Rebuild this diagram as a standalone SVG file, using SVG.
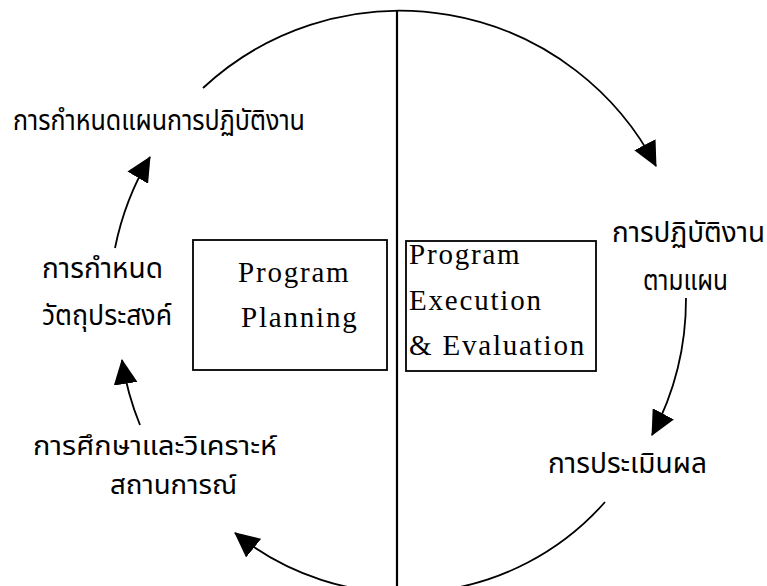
<svg xmlns="http://www.w3.org/2000/svg" width="767" height="586" viewBox="0 0 767 586">
<style>
.th{font-family:"Noto Sans Thai","Noto Sans","DejaVu Sans",sans-serif;font-size:28px;fill:#000}
.th2{font-size:26px}
.en{font-family:"Liberation Serif","Times New Roman",serif;font-size:29px;letter-spacing:1.8px;fill:#000}
.box{fill:none;stroke:#000;stroke-width:1.8}
.arc{fill:none;stroke:#000;stroke-width:1.8;marker-end:url(#ah)}
</style>
<defs>
<marker id="ah" markerUnits="userSpaceOnUse" viewBox="0 0 25 24" refX="24" refY="12" markerWidth="25" markerHeight="24" orient="auto">
<path d="M0,0 L25,12 L0,24 Z" fill="#000"/>
</marker>
</defs>
<rect width="767" height="586" fill="#fff"/>
<g id="connectors">
<line x1="397" y1="11" x2="397" y2="586" stroke="#000" stroke-width="2.2"/>
<path class="arc" d="M203,88 A289,289 0 0 1 656,166"/>
<path class="arc" d="M686,298 A289,289 0 0 1 652,435"/>
<path class="arc" d="M605,502 A268,268 0 0 1 235,533"/>
<path class="arc" d="M140,425 A289,289 0 0 1 122,360"/>
<path class="arc" d="M115,248 A289,289 0 0 1 150,157"/>
</g>
<g id="node-planning">
<rect class="box" x="193" y="240" width="194" height="130"/>
<text class="en" x="238" y="282">Program</text>
<text class="en" x="241" y="327">Planning</text>
</g>
<g id="node-execution">
<rect class="box" x="406" y="241" width="190" height="130"/>
<text class="en" x="409" y="264">Program</text>
<text class="en" x="409" y="310">Execution</text>
<text class="en" x="409" y="355">&amp; Evaluation</text>
</g>
<g id="node-plan-action">
<text class="th" x="13" y="130" textLength="292" lengthAdjust="spacingAndGlyphs">การกำหนดแผนการปฏิบัติงาน</text>
</g>
<g id="node-objectives">
<text class="th" x="42" y="278" textLength="121" lengthAdjust="spacingAndGlyphs">การกำหนด</text>
<text class="th" x="42" y="325" textLength="130" lengthAdjust="spacingAndGlyphs">วัตถุประสงค์</text>
</g>
<g id="node-analysis">
<text class="th th2" x="33" y="455" textLength="244" lengthAdjust="spacingAndGlyphs">การศึกษาและวิเคราะห์</text>
<text class="th th2" x="110" y="494" textLength="127" lengthAdjust="spacingAndGlyphs">สถานการณ์</text>
</g>
<g id="node-execute">
<text class="th" x="612" y="242" textLength="153" lengthAdjust="spacingAndGlyphs">การปฏิบัติงาน</text>
<text class="th" x="643" y="290" textLength="85" lengthAdjust="spacingAndGlyphs">ตามแผน</text>
</g>
<g id="node-evaluate">
<text class="th" x="548" y="473" textLength="159" lengthAdjust="spacingAndGlyphs">การประเมินผล</text>
</g>
</svg>
